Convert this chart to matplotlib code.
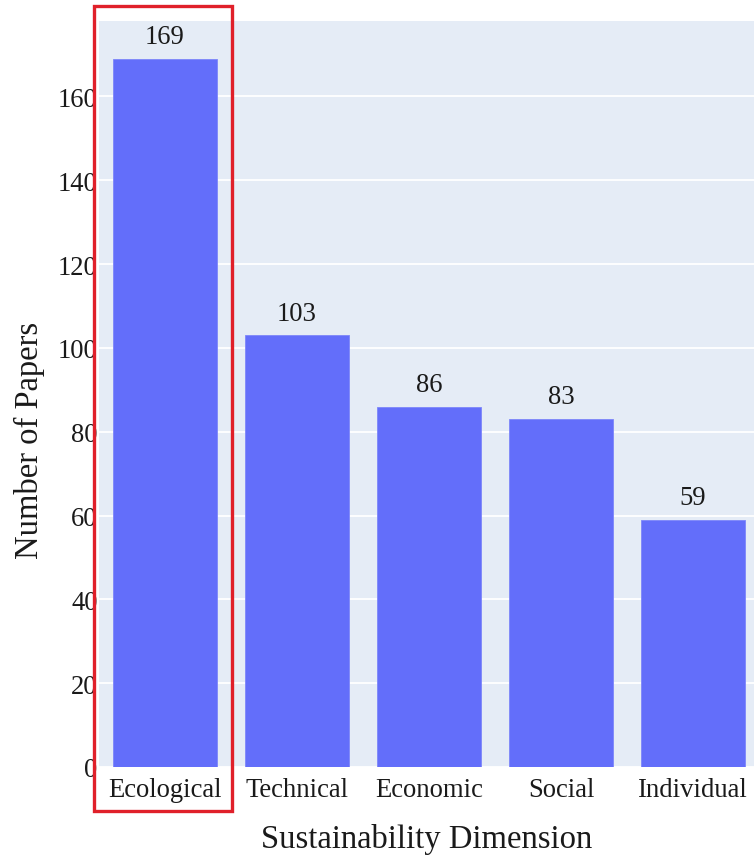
import numpy as np
import matplotlib.pyplot as plt
from matplotlib.patches import Rectangle
from matplotlib.transforms import blended_transform_factory

dimensions = ['Ecological', 'Technical', 'Economic', 'Social', 'Individual']
paper_counts = [169, 103, 86, 83, 59]

plt.rcParams['font.family'] = ['Liberation Serif', 'DejaVu Serif']

W, H = 754, 862
fig = plt.figure(figsize=(W / 100, H / 100), dpi=100)

# plot area in pixels (left, top, right, bottom); the right side runs past the canvas
left, top, right, bottom = 99, 22, 759, 768
ax = fig.add_axes([left / W, 1 - bottom / H, (right - left) / W, (bottom - top) / H])
ax.set_facecolor('#E5ECF6')

x = np.arange(len(dimensions))
bars = ax.bar(x, paper_counts, width=0.79, color='#636EFA',
              edgecolor='#7d86fa', linewidth=0.6, zorder=3)
for xi, v in zip(x, paper_counts):
    ax.annotate(str(v), (xi, v), xytext=(0, 7), textcoords='offset points',
                ha='center', va='bottom', fontsize=19.2, color='#1a1a1a')

ax.set_xlim(-0.5, len(dimensions) - 0.5)
ax.set_ylim(0, 178)
ax.set_yticks(np.arange(0, 161, 20))
ax.grid(axis='y', color='white', linewidth=1.3, zorder=1)
ax.set_axisbelow(True)
for s in ax.spines.values():
    s.set_visible(False)
ax.tick_params(axis='both', length=0, labelsize=19.2, colors='#1a1a1a')
ax.tick_params(axis='y', pad=1)
ax.tick_params(axis='x', pad=7)
ax.set_xticks(x)
ax.set_xticklabels(dimensions)

ax.set_xlabel('Sustainability Dimension', fontsize=23.5, color='#1a1a1a')
ax.xaxis.set_label_coords((427 - left) / (right - left), -(824 - bottom) / (bottom - top))
ax.set_ylabel('Number of Papers', fontsize=23.5, color='#1a1a1a')
ax.yaxis.set_label_coords(-(left - 45) / (right - left), (bottom - 440) / (bottom - top))

# highlight box around the first category
trans = blended_transform_factory(ax.transData, fig.transFigure)
box_top, box_bottom = 1 - 6.5 / H, 1 - 811.5 / H
box = Rectangle((-0.54, box_bottom), 1.05, box_top - box_bottom, transform=trans,
                fill=False, edgecolor='#e0202a', linewidth=2.4, clip_on=False, zorder=5)
fig.add_artist(box)

fig.savefig('out.png', dpi=100)
